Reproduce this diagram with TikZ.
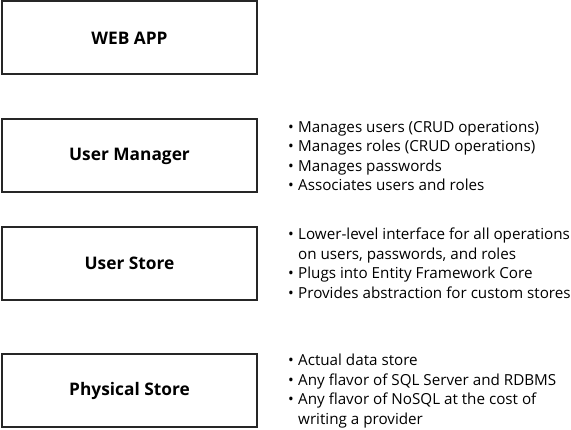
\documentclass[tikz,border=0pt]{standalone}
\usepackage{fontspec}
\setmainfont{Open Sans}
\usepackage{tikz}
\usetikzlibrary{positioning}

\newcommand{\blt}{\makebox[10pt][l]{\textbullet}}
\newcommand{\cnt}{\hspace*{10pt}}

\begin{document}
\begin{tikzpicture}[
    x=1pt, y=-1pt,
    node distance=1.4cm and 30pt,
    layer/.style={rectangle, draw=black!85, line width=2pt, minimum width=255pt, minimum height=73pt, font=\fontsize{17.3}{20}\selectfont\bfseries},
    notes/.style={align=left, inner sep=0pt, font=\fontsize{15.2}{19.5}\selectfont}
]
    \useasboundingbox (0,0) rectangle (571,430);

    \node [layer] (web) at (129.5,38) {WEB APP};
    \node [layer] (mgr) at (129.5,156) {User Manager};
    \node [layer] (ustore) at (129.5,263.5) {User Store};
    \node [layer] (pstore) at (129.5,391) {Physical Store};

    \node [notes, right=of mgr] (mgrnotes) {\blt Manages users (CRUD operations)\\
        \blt Manages roles (CRUD operations)\\
        \blt Manages passwords\\
        \blt Associates users and roles};
    \node [notes, right=of ustore] (ustorenotes) {\blt Lower-level interface for all operations\\
        \cnt on users, passwords, and roles\\
        \blt Plugs into Entity Framework Core\\
        \blt Provides abstraction for custom stores};
    \node [notes, right=of pstore] (pstorenotes) {\blt Actual data store\\
        \blt Any flavor of SQL Server and RDBMS\\
        \blt Any flavor of NoSQL at the cost of\\
        \cnt writing a provider};
\end{tikzpicture}
\end{document}
